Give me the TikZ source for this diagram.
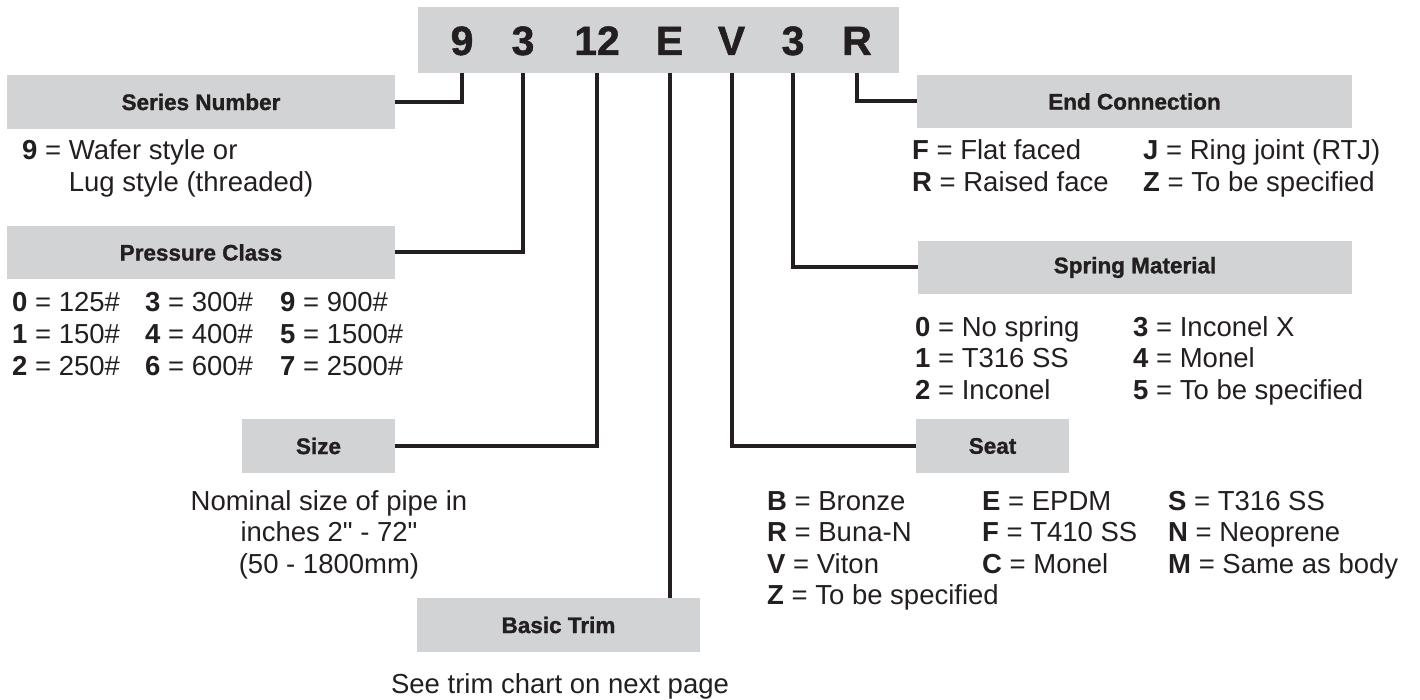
\documentclass[tikz,border=0pt]{standalone}
\usepackage{fontspec}
\setmainfont{Liberation Sans}
\newfontfamily\rsQfont{Liberation Sans}
\newfontface\rsHeavy{Liberation Sans Bold}[FakeBold=1.2]
\definecolor{boxgray}{HTML}{D1D3D4}
\definecolor{ink}{HTML}{231F20}
\newcommand\rsBody{\fontsize{27.5}{31.5}\selectfont}
\newcommand\rsHead{\rsHeavy\fontsize{22.5}{27}\selectfont}
\newcommand\rsCode{\rsHeavy\fontsize{41}{48}\selectfont}
\newcommand\rsIn{{\rsQfont"}}
\tikzset{
  hbox/.style={fill=boxgray, draw=none, inner sep=0pt, font=\rsHead, text=ink},
  codech/.style={font=\rsCode, text=ink, anchor=base, inner sep=0pt},
  desc/.style={font=\rsBody, text=ink, anchor=base west, inner sep=0pt},
  descc/.style={font=\rsBody, text=ink, anchor=base, inner sep=0pt},
  conn/.style={draw=ink, line width=4pt},
}
\begin{document}
\begin{tikzpicture}[x=1pt,y=-1pt]
\useasboundingbox (0,0) rectangle (1420,700);
% code box
\node[hbox, minimum width=481pt, minimum height=66pt] (code) at (658.5,40) {};
\node[codech] (c9)  at (462,55) {9};
\node[codech] (c3a) at (523,55) {3};
\node[codech] (c12) at (597,55) {12};
\node[codech] (cE)  at (669.5,55) {E};
\node[codech] (cV)  at (731.5,55) {V};
\node[codech] (c3b) at (793,55) {3};
\node[codech] (cR)  at (857,55) {R};
% heading boxes
\node[hbox, minimum width=388pt, minimum height=54pt] (series) at (201,102) {Series Number};
\node[hbox, minimum width=388pt, minimum height=53pt] (pressure) at (201,252.5) {Pressure Class};
\node[hbox, minimum width=153pt, minimum height=54pt] (size) at (318.5,446) {Size};
\node[hbox, minimum width=283pt, minimum height=54pt] (trim) at (558.5,625) {Basic Trim};
\node[hbox, minimum width=435pt, minimum height=53pt] (endc) at (1134.5,101.5) {End Connection};
\node[hbox, minimum width=434pt, minimum height=53pt] (spring) at (1135,267.5) {Spring Material};
\node[hbox, minimum width=153pt, minimum height=54pt] (seat) at (992.5,446) {Seat};
% descriptions
\node[desc] (seriesd) at (22,160) {\begin{tabular}[t]{@{}l@{}}\textbf{9} = Wafer style or\\ \phantom{\textbf{9} = }Lug style (threaded)\end{tabular}};
\node[desc] (pressd) at (12,312) {\begin{tabular}[t]{@{}p{133pt}@{}p{135pt}@{}l@{}}
\textbf{0} = 125\# & \textbf{3} = 300\# & \textbf{9} = 900\#\\
\textbf{1} = 150\# & \textbf{4} = 400\# & \textbf{5} = 1500\#\\
\textbf{2} = 250\# & \textbf{6} = 600\# & \textbf{7} = 2500\#
\end{tabular}};
\node[descc] (sized) at (329,510) {\begin{tabular}[t]{@{}c@{}}Nominal size of pipe in\\ inches 2\rsIn{} - 72\rsIn\\ (50 - 1800mm)\end{tabular}};
\node[descc] (trimd) at (560,693) {See trim chart on next page};
\node[desc] (endd) at (912,160) {\begin{tabular}[t]{@{}p{231pt}@{}l@{}}
\textbf{F} = Flat faced & \textbf{J} = Ring joint (RTJ)\\
\textbf{R} = Raised face & \textbf{Z} = To be specified
\end{tabular}};
\node[desc] (springd) at (915,336) {\begin{tabular}[t]{@{}p{218pt}@{}l@{}}
\textbf{0} = No spring & \textbf{3} = Inconel X\\
\textbf{1} = T316 SS & \textbf{4} = Monel\\
\textbf{2} = Inconel & \textbf{5} = To be specified
\end{tabular}};
\node[desc] (seatd) at (767,510) {\begin{tabular}[t]{@{}p{215pt}@{}p{186pt}@{}l@{}}
\textbf{B} = Bronze & \textbf{E} = EPDM & \textbf{S} = T316 SS\\
\textbf{R} = Buna-N & \textbf{F} = T410 SS & \textbf{N} = Neoprene\\
\textbf{V} = Viton & \textbf{C} = Monel & \textbf{M} = Same as body\\
\multicolumn{3}{@{}l@{}}{\textbf{Z} = To be specified}
\end{tabular}};
% connectors
\draw[conn] (c9 |- code.south) |- (series.east);
\draw[conn] (c3a |- code.south) |- (pressure.east);
\draw[conn] (c12 |- code.south) |- (size.east);
\draw[conn] (cE |- code.south) -- (cE |- trim.north);
\draw[conn] (cV |- code.south) |- (seat.west);
\draw[conn] (c3b |- code.south) |- (spring.west);
\draw[conn] (cR |- code.south) |- (endc.west);
\end{tikzpicture}
\end{document}
